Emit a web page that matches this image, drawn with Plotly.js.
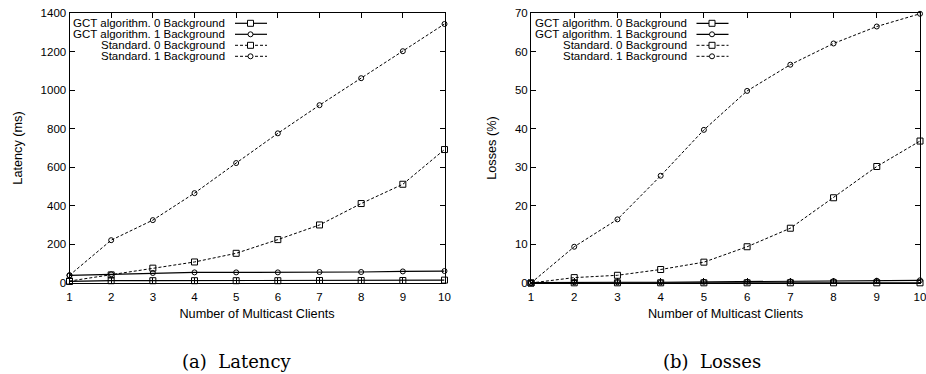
<!DOCTYPE html>
<html>
<head>
<meta charset="utf-8">
<script src="https://cdn.plot.ly/plotly-3.0.1.min.js"></script>
<style>html,body{margin:0;padding:0;background:#fff;}#chart{width:926px;height:374px;}</style>
</head>
<body>
<div id="chart"></div>
<script>
// ---- data ----
const clients = [1, 2, 3, 4, 5, 6, 7, 8, 9, 10];
const seriesNames = ["GCT algorithm. 0 Background", "GCT algorithm. 1 Background", "Standard. 0 Background", "Standard. 1 Background"];
// Latency (ms)
const latGct0 = [8, 12, 12, 12, 12, 12, 13, 13, 13, 15];
const latGct1 = [40, 45, 52, 55, 55, 55, 57, 57, 60, 62];
const latStd0 = [10, 42, 77, 109, 154, 225, 301, 412, 512, 692];
const latStd1 = [40, 222, 326, 466, 622, 776, 922, 1062, 1202, 1343];
// Losses (%)
const lossGct0 = [0, 0.05, 0.05, 0.05, 0.05, 0.05, 0.05, 0.05, 0.05, 0.05];
const lossGct1 = [0.1, 0.2, 0.2, 0.2, 0.3, 0.3, 0.4, 0.5, 0.6, 0.7];
const lossStd0 = [0, 1.4, 2.0, 3.5, 5.4, 9.4, 14.2, 22.1, 30.2, 36.8];
const lossStd1 = [0, 9.4, 16.5, 27.8, 39.7, 49.8, 56.6, 62.1, 66.5, 69.8];
const xTicks = [1, 2, 3, 4, 5, 6, 7, 8, 9, 10];
const captions = ["(a)  Latency", "(b)  Losses"];

// ---- styles ----
const W = 926, H = 374;
const styles = [
  {dash: "solid", symbol: "square-open", size: 6},
  {dash: "solid", symbol: "circle-open", size: 5},
  {dash: "3px,2px", symbol: "square-open", size: 6},
  {dash: "3px,2px", symbol: "circle-open", size: 5}
];
const FONT = "Liberation Sans, Arial, sans-serif";

function mk(y, i, xa, ya) {
  return {
    x: clients, y: y, type: "scatter", mode: "lines+markers", name: seriesNames[i],
    xaxis: xa, yaxis: ya, showlegend: false, cliponaxis: false,
    line: {color: "#000", width: styles[i].dash === "solid" ? 1.2 : 1, dash: styles[i].dash},
    marker: {symbol: styles[i].symbol, size: styles[i].size, color: "#000", line: {color: "#000", width: 1}}
  };
}
const data = [
  mk(latGct0, 0, "x", "y"), mk(latGct1, 1, "x", "y"), mk(latStd0, 2, "x", "y"), mk(latStd1, 3, "x", "y"),
  mk(lossGct0, 0, "x2", "y2"), mk(lossGct1, 1, "x2", "y2"), mk(lossStd0, 2, "x2", "y2"), mk(lossStd1, 3, "x2", "y2")
];

const dom1 = [69.5 / W, 444.5 / W];
const dom2 = [531 / W, 920 / W];
const ydom = [1 - 283 / H, 1 - 13 / H];

function xax(dom, anchor) {
  return {
    domain: dom, anchor: anchor, range: [1, 10], tickvals: xTicks, ticktext: xTicks.map(String),
    showgrid: false, zeroline: false, showline: true, linecolor: "#000", linewidth: 1, mirror: "ticks",
    ticks: "inside", ticklen: 5, tickcolor: "#000", tickfont: {family: FONT, size: 11.5, color: "#000"},
    ticklabeloverflow: "allow", ticklabelstandoff: 3,
    title: {text: "Number of Multicast Clients", font: {family: FONT, size: 12.7, color: "#000"}, standoff: 7},
    automargin: false
  };
}
function yax(dom, anchor, range, dtick, title) {
  return {
    domain: dom, anchor: anchor, range: range, dtick: dtick, tick0: 0,
    showgrid: false, zeroline: false, showline: true, linecolor: "#000", linewidth: 1, mirror: "ticks",
    ticks: "inside", ticklen: 5, tickcolor: "#000", tickfont: {family: FONT, size: 11.5, color: "#000"},
    ticklabeloverflow: "allow",
    title: {text: title, font: {family: FONT, size: 12.7, color: "#000"}, standoff: 15},
    automargin: false
  };
}

// custom gnuplot-style legend (text right-aligned, sample on the right)
const annotations = [];
const shapes = [];
const rowY = [23.3, 34.3, 45.3, 56.3];
[dom1, dom2].forEach(function (dom) {
  const x0 = dom[0] * W;
  seriesNames.forEach(function (name, i) {
    const yp = rowY[i];
    annotations.push({
      xref: "paper", yref: "paper", x: (x0 + 157.5) / W, y: 1 - yp / H, xanchor: "right", yanchor: "middle",
      text: name, showarrow: false, font: {family: FONT, size: 11.5, color: "#000"}
    });
    shapes.push({
      type: "line", xref: "paper", yref: "paper", x0: (x0 + 165.5) / W, x1: (x0 + 197.5) / W,
      y0: 1 - yp / H, y1: 1 - yp / H,
      line: {color: "#000", width: styles[i].dash === "solid" ? 1.2 : 1, dash: styles[i].dash}
    });
    const cx = x0 + 181, r = styles[i].size / 2;
    shapes.push({
      type: styles[i].symbol.indexOf("square") === 0 ? "rect" : "circle", xref: "paper", yref: "paper",
      x0: (cx - r) / W, x1: (cx + r) / W, y0: 1 - (yp + r) / H, y1: 1 - (yp - r) / H,
      fillcolor: "#fff", line: {color: "#000", width: 1}
    });
  });
});
// captions
annotations.push({xref: "paper", yref: "paper", x: 236 / W, y: 1 - 361 / H, xanchor: "center", yanchor: "middle",
  text: captions[0], showarrow: false, font: {family: "DejaVu Serif, serif", size: 18, color: "#000"}});
annotations.push({xref: "paper", yref: "paper", x: 712 / W, y: 1 - 361 / H, xanchor: "center", yanchor: "middle",
  text: captions[1], showarrow: false, font: {family: "DejaVu Serif, serif", size: 18, color: "#000"}});

const layout = {
  width: W, height: H, margin: {l: 0, r: 0, t: 0, b: 0}, paper_bgcolor: "#fff", plot_bgcolor: "#fff",
  showlegend: false,
  xaxis: xax(dom1, "y"), yaxis: yax(ydom, "x", [0, 1400], 200, "Latency (ms)"),
  xaxis2: xax(dom2, "y2"), yaxis2: yax(ydom, "x2", [0, 70], 10, "Losses (%)"),
  annotations: annotations, shapes: shapes
};
Plotly.newPlot("chart", data, layout, {staticPlot: true, displayModeBar: false});
</script>
</body>
</html>
